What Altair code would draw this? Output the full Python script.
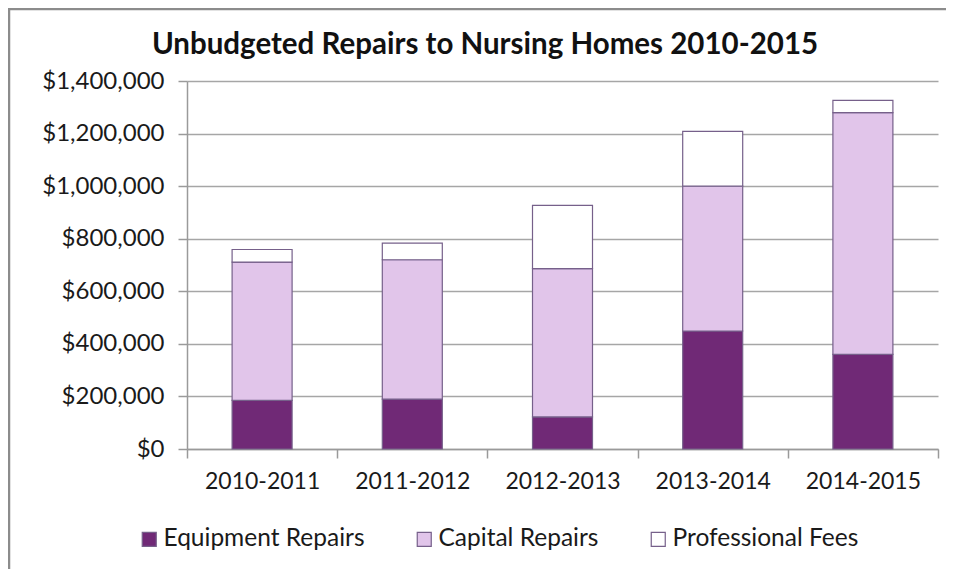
import altair as alt
import pandas as pd

periods = ["2010-2011", "2011-2012", "2012-2013", "2013-2014", "2014-2015"]
series = ["Equipment Repairs", "Capital Repairs", "Professional Fees"]
equipment = [185000, 190000, 122000, 449000, 360000]
capital = [526000, 530000, 564000, 551000, 920000]
professional = [48000, 63000, 241000, 208000, 46000]
y_ticks = [0, 200000, 400000, 600000, 800000, 1000000, 1200000, 1400000]
colors = ["#702976", "#E1C5EA", "#FFFFFF"]
title_text = "Unbudgeted Repairs to Nursing Homes 2010-2015"

rows = []
for i, p in enumerate(periods):
    for k, (name, vals) in enumerate(zip(series, [equipment, capital, professional])):
        rows.append({"period": p, "series": name, "value": vals[i], "order": k})
df = pd.DataFrame(rows)

FONT = "Lato"

bars = alt.Chart(df).mark_bar(size=60, stroke="#76608A", strokeWidth=1.2).encode(
    x=alt.X("period:N", sort=periods, title=None,
            scale=alt.Scale(paddingInner=0, paddingOuter=0),
            axis=alt.Axis(labelAngle=0, tickBand="extent", tickSize=9, tickColor="#9A9A9A",
                          domainColor="#9A9A9A", domainWidth=1.5, tickWidth=1.5,
                          labelFontSize=23, labelFont=FONT, labelColor="#1A1A1A",
                          labelPadding=12, grid=False)),
    y=alt.Y("value:Q", title=None, stack="zero",
            scale=alt.Scale(domain=[0, 1400000], nice=False),
            axis=alt.Axis(values=y_ticks, format="$,.0f", tickSize=9, tickColor="#9A9A9A",
                          domainColor="#9A9A9A", domainWidth=1.5, tickWidth=1.5,
                          gridColor="#A6A6A6", gridWidth=1.5,
                          labelFontSize=24, labelFont=FONT, labelColor="#1A1A1A",
                          labelPadding=14)),
    color=alt.Color("series:N", sort=series,
                    scale=alt.Scale(domain=series, range=colors),
                    legend=alt.Legend(title=None, orient="none", direction="horizontal",
                                      legendX=-50, legendY=446,
                                      symbolType="square", symbolSize=196,
                                      symbolStrokeColor="#76608A", symbolStrokeWidth=1.2,
                                      symbolOpacity=1, labelLimit=0,
                                      labelFontSize=24.5, labelFont=FONT, labelColor="#1A1A1A",
                                      labelOffset=2, columnPadding=47, padding=0)),
    order=alt.Order("order:Q", sort="ascending"),
)

one = pd.DataFrame({"t": [title_text]})

frame = alt.Chart(one).mark_rect(
    fill="transparent", stroke="#8C8C8C", strokeWidth=2.5
).encode(
    x=alt.value(-178), x2=alt.value(800), y=alt.value(-72), y2=alt.value(530)
)
title = alt.Chart(one).mark_text(
    font=FONT, fontSize=29.5, fontWeight="bold", color="#111111",
    align="center", baseline="middle"
).encode(text="t:N", x=alt.value(298), y=alt.value(-36))

chart = alt.layer(frame, title, bars).properties(
    width=751, height=368,
    autosize=alt.AutoSizeParams(type="none"),
    padding={"left": 179, "top": 73, "right": 8, "bottom": 120},
).configure_view(strokeWidth=0, stroke="transparent")

chart.save("out.html", embed_options={"renderer": "svg", "actions": False})
